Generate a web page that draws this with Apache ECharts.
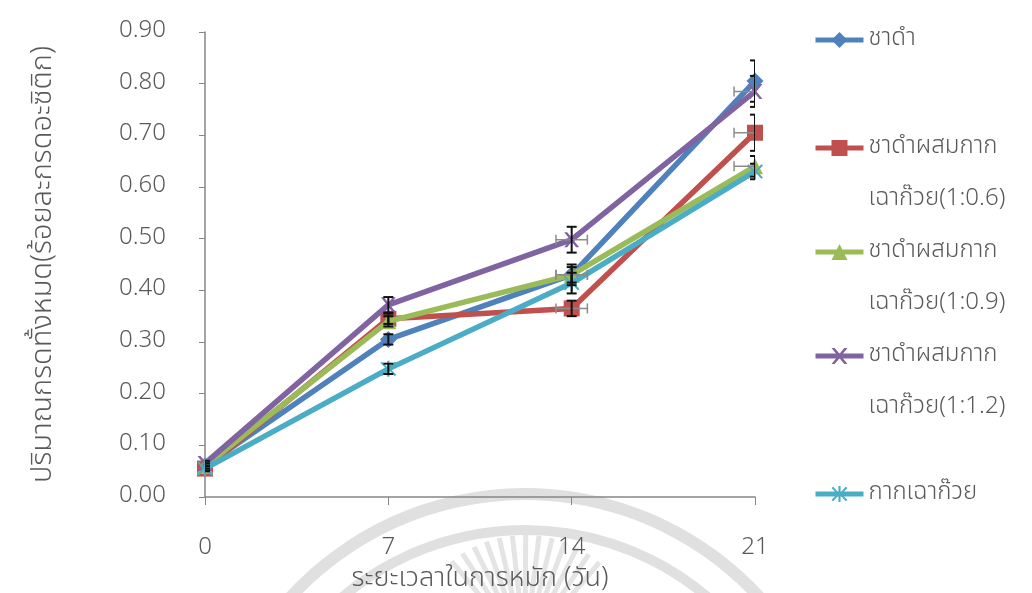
<!DOCTYPE html>
<html>
<head>
<meta charset="utf-8">
<script src="https://cdn.jsdelivr.net/npm/echarts@6/dist/echarts.min.js"></script>
<style>
  html, body { margin: 0; padding: 0; background: #ffffff; }
  #chart { width: 1032px; height: 593px; }
</style>
</head>
<body>
<div id="chart"></div>
<script>
// Fermentation days
const days = [0, 7, 14, 21];
const yTicks = [0, 0.1, 0.2, 0.3, 0.4, 0.5, 0.6, 0.7, 0.8, 0.9];

// Total acid (% acetic acid) for each tea mix
const seriesNames = [
  'ชาดำ',
  'ชาดำผสมกากเฉาก๊วย(1:0.6)',
  'ชาดำผสมกากเฉาก๊วย(1:0.9)',
  'ชาดำผสมกากเฉาก๊วย(1:1.2)',
  'กากเฉาก๊วย'
];
const blackTea   = [0.060, 0.305, 0.430, 0.805];
const mix06      = [0.055, 0.345, 0.365, 0.705];
const mix09      = [0.060, 0.340, 0.430, 0.640];
const mix12      = [0.065, 0.372, 0.498, 0.785];
const residue    = [0.055, 0.248, 0.414, 0.630];

// Standard deviations (vertical) and day spread (horizontal)
const yErrBlack   = [0.005, 0.010, 0.020, 0.040];
const yErr06      = [0.005, 0.010, 0.015, 0.035];
const yErr09      = [0.005, 0.010, 0.015, 0.020];
const yErr12      = [0.005, 0.015, 0.025, 0.030];
const yErrResidue = [0.005, 0.010, 0.020, 0.015];
const xErrBlack   = [0, 0, 0.6, 0];
const xErr06      = [0, 0, 0.6, 0.8];
const xErr09      = [0, 0, 0.6, 0.8];
const xErr12      = [0, 0, 0.6, 0.8];
const xErrResidue = [0, 0, 0, 0];

const values = [blackTea, mix06, mix09, mix12, residue];
const yErrs = [yErrBlack, yErr06, yErr09, yErr12, yErrResidue];
const xErrs = [xErrBlack, xErr06, xErr09, xErr12, xErrResidue];
const colors = ['#4F81BD', '#C0504D', '#9BBB59', '#8064A2', '#4BACC6'];

const xPath = 'path://M0,0 L2,0 L5,3.6 L8,0 L10,0 L6,5 L10,10 L8,10 L5,6.4 L2,10 L0,10 L4,5 Z';
const starPath = 'path://M4.4,0 L5.6,0 L5.6,4 L8.5,0.5 L9.5,1.2 L6.2,5 L9.5,8.8 L8.5,9.5 L5.6,6 L5.6,10 L4.4,10 L4.4,6 L1.5,9.5 L0.5,8.8 L3.8,5 L0.5,1.2 L1.5,0.5 L4.4,4 Z';
const symbols = ['diamond', 'rect', 'triangle', xPath, starPath];
const symbolSizes = [17, 16, 16, 15, 16];

const FONT = "'Noto Sans Thai', 'Noto Sans', sans-serif";
const WEIGHT = 300;
const TEXT = '#595959';

const lineSeries = seriesNames.map((name, i) => ({
  name: name,
  type: 'line',
  data: days.map((d, j) => [d, values[i][j]]),
  symbol: symbols[i],
  symbolSize: symbolSizes[i],
  showAllSymbol: true,
  lineStyle: { color: colors[i], width: 5.5 },
  itemStyle: { color: colors[i] },
  z: 3 + i
}));

const errorSeries = seriesNames.map((name, i) => ({
  type: 'custom',
  name: name + '-err',
  silent: true,
  clip: true,
  z: 20,
  data: days.map((d, j) => [d, values[i][j], xErrs[i][j], yErrs[i][j]]),
  renderItem: function (params, api) {
    const x = api.value(0), y = api.value(1), dx = api.value(2), dy = api.value(3);
    const children = [];
    const cap = 5;
    if (dx > 0) {
      const l = api.coord([x - dx, y]);
      const r = api.coord([x + dx, y]);
      const gs = { stroke: '#8c8c8c', lineWidth: 1.5 };
      children.push({ type: 'line', shape: { x1: l[0], y1: l[1], x2: r[0], y2: r[1] }, style: gs });
      children.push({ type: 'line', shape: { x1: l[0], y1: l[1] - cap, x2: l[0], y2: l[1] + cap }, style: gs });
      children.push({ type: 'line', shape: { x1: r[0], y1: r[1] - cap, x2: r[0], y2: r[1] + cap }, style: gs });
    }
    if (dy > 0) {
      const t = api.coord([x, y + dy]);
      const b = api.coord([x, y - dy]);
      const bs = { stroke: '#111111', lineWidth: 2 };
      children.push({ type: 'line', shape: { x1: t[0], y1: t[1], x2: b[0], y2: b[1] }, style: bs });
      children.push({ type: 'line', shape: { x1: t[0] - 5, y1: t[1], x2: t[0] + 5, y2: t[1] }, style: bs });
      children.push({ type: 'line', shape: { x1: b[0] - 5, y1: b[1], x2: b[0] + 5, y2: b[1] }, style: bs });
    }
    return { type: 'group', children: children };
  }
}));

// Legend entries: first-line centres and the wrapped label text
const legendTops = [40, 148, 252, 356, 494];
const LH = 52;
const legendLabels = {
  'ชาดำ': 'ชาดำ',
  'ชาดำผสมกากเฉาก๊วย(1:0.6)': '\nชาดำผสมกาก\nเฉาก๊วย(1:0.6)',
  'ชาดำผสมกากเฉาก๊วย(1:0.9)': '\nชาดำผสมกาก\nเฉาก๊วย(1:0.9)',
  'ชาดำผสมกากเฉาก๊วย(1:1.2)': '\nชาดำผสมกาก\nเฉาก๊วย(1:1.2)',
  'กากเฉาก๊วย': 'กากเฉาก๊วย'
};
const legends = seriesNames.map((name, i) => {
  const lines = legendLabels[name].split('\n').length;
  return {
    data: [name],
    orient: 'vertical',
    left: 813,
    top: legendTops[i] - (lines * LH) / 2,
    padding: 0,
    itemWidth: 48,
    itemHeight: 20,
    selectedMode: false,
    lineStyle: { width: 5 },
    formatter: n => legendLabels[n],
    textStyle: { fontFamily: FONT, fontWeight: WEIGHT, fontSize: 24, color: TEXT, lineHeight: LH }
  };
});

// Faint emblem drawn behind the plot
const emblem = [];
[[318, 12], [282, 10]].forEach(([r, w]) => {
  emblem.push({
    type: 'arc', z: -10, silent: true,
    shape: { cx: 525, cy: 812, r: r, startAngle: Math.PI * 1.05, endAngle: Math.PI * 1.95 },
    style: { stroke: '#e0e0e0', lineWidth: w, fill: null }
  });
});
for (let k = 0; k < 13; k++) {
  const a = Math.PI * (1.28 + k * 0.037);
  emblem.push({
    type: 'line', z: -10, silent: true,
    shape: { x1: 525 + Math.cos(a) * 40, y1: 650 + Math.sin(a) * 40, x2: 525 + Math.cos(a) * 115, y2: 650 + Math.sin(a) * 115 },
    style: { stroke: '#e4e4e4', lineWidth: 5 }
  });
}

const chart = echarts.init(document.getElementById('chart'), null, { renderer: 'canvas' });
chart.setOption({
  backgroundColor: '#ffffff',
  animation: false,
  textStyle: { fontFamily: FONT, fontWeight: WEIGHT },
  grid: { left: 205, right: 277, top: 32, bottom: 96, outerBoundsMode: 'none', containLabel: false },
  legend: legends,
  graphic: emblem,
  xAxis: {
    type: 'value',
    min: days[0],
    max: days[days.length - 1],
    interval: 7,
    name: 'ระยะเวลาในการหมัก (วัน)',
    nameLocation: 'middle',
    nameGap: 70,
    nameTextStyle: { fontFamily: FONT, fontWeight: WEIGHT, fontSize: 27, color: TEXT },
    axisLine: { lineStyle: { color: '#868686', width: 1.5 } },
    axisTick: { show: true, length: 8, lineStyle: { color: '#868686' } },
    axisLabel: { fontSize: 24, color: TEXT, margin: 40, fontFamily: FONT, fontWeight: WEIGHT },
    splitLine: { show: false }
  },
  yAxis: {
    type: 'value',
    min: yTicks[0],
    max: yTicks[yTicks.length - 1],
    interval: 0.1,
    name: 'ปริมาณกรดทั้งหมด(ร้อยละกรดอะซิติก)',
    nameLocation: 'middle',
    nameGap: 145,
    nameTextStyle: { fontFamily: FONT, fontWeight: WEIGHT, fontSize: 29, color: TEXT },
    axisLine: { show: true, lineStyle: { color: '#868686', width: 1.5 } },
    axisTick: { show: true, length: 6, lineStyle: { color: '#868686' } },
    axisLabel: { fontSize: 24, color: TEXT, margin: 39, fontFamily: FONT, fontWeight: WEIGHT, formatter: v => v.toFixed(2) },
    splitLine: { show: false }
  },
  series: lineSeries.concat(errorSeries)
});
</script>
</body>
</html>
